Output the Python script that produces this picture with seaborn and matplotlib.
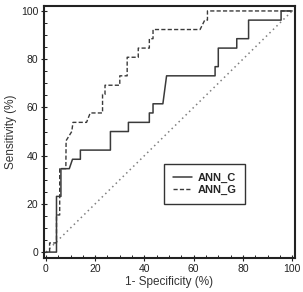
import numpy as np
import pandas as pd
import matplotlib
matplotlib.use("Agg")
import matplotlib.pyplot as plt
from matplotlib.ticker import MultipleLocator
import seaborn as sns

# ROC step points (percent)
fpr_c = [0, 4.3, 4.3, 6.1, 6.1, 9.5, 10.8, 14.0, 14.0, 26.2, 26.2, 33.5, 33.5, 42.0, 42.0,
         43.5, 43.5, 47.5, 49.0, 68.7, 68.7, 70.0, 70.0, 77.5, 77.5, 82.3, 82.3, 95.5, 95.5, 100]
tpr_c = [0, 0, 23.1, 23.1, 34.6, 34.6, 38.5, 38.5, 42.3, 42.3, 50.0, 50.0, 53.8, 53.8, 57.7,
         57.7, 61.5, 61.5, 73.1, 73.1, 76.9, 76.9, 84.6, 84.6, 88.5, 88.5, 96.2, 96.2, 100, 100]

fpr_g = [1.5, 1.5, 4.3, 4.3, 5.6, 5.6, 8.1, 8.2, 10.5, 11.0, 16.5, 18.0, 23.0, 23.0, 24.0,
         24.0, 30.0, 30.0, 33.0, 33.0, 37.5, 37.5, 42.0, 42.0, 43.5, 43.5, 62.6, 64.5, 65.6, 65.6, 100]
tpr_g = [0, 3.8, 3.8, 15.4, 15.4, 34.6, 34.6, 46.2, 50.0, 53.8, 53.8, 57.7, 57.7, 65.4, 65.4,
         69.2, 69.2, 73.1, 73.1, 80.8, 80.8, 84.6, 84.6, 88.5, 88.5, 92.3, 92.3, 96.2, 96.2, 100, 100]

ref_x = [0, 100]
ref_y = [0, 100]

sns.set_style("white")
plt.rcParams['font.family'] = ['Liberation Sans', 'DejaVu Sans']

fig = plt.figure(figsize=(3.03, 2.92), dpi=100)
ax = fig.add_axes([0.145, 0.116, 0.829, 0.863])

dfC = pd.DataFrame({'x': fpr_c, 'y': tpr_c})
dfG = pd.DataFrame({'x': fpr_g, 'y': tpr_g})
dfR = pd.DataFrame({'x': ref_x, 'y': ref_y})

sns.lineplot(x='x', y='y', data=dfR, ax=ax, sort=False, estimator=None,
             color='#808080', linestyle=(0, (1, 2.2)), linewidth=1.1)
sns.lineplot(x='x', y='y', data=dfG, ax=ax, sort=False, estimator=None,
             color='#3a3a3a', linestyle=(0, (3, 1.6)), linewidth=1.0, label='ANN_G')
sns.lineplot(x='x', y='y', data=dfC, ax=ax, sort=False, estimator=None,
             color='#3a3a3a', linewidth=1.1, label='ANN_C')

ax.set_xlim(-0.8, 101.2)
ax.set_ylim(-2.5, 102)
ax.xaxis.set_major_locator(MultipleLocator(20))
ax.yaxis.set_major_locator(MultipleLocator(20))
ax.xaxis.set_minor_locator(MultipleLocator(5))
ax.yaxis.set_minor_locator(MultipleLocator(5))
ax.tick_params(which='major', direction='inout', length=4, width=0.8, labelsize=7.5,
               colors='#222222', pad=2)
ax.tick_params(which='minor', direction='in', length=2.5, width=0.7, colors='#222222')
ax.tick_params(axis='x', which='both', bottom=True)
ax.tick_params(axis='y', which='both', left=True)
for s in ax.spines.values():
    s.set_linewidth(1.5)
    s.set_color('#222222')

ax.set_xlabel('1- Specificity (%)', fontsize=8.5, color='#333333', labelpad=2)
ax.set_ylabel('Sensitivity (%)', fontsize=8.5, color='#333333', labelpad=3)

h, l = ax.get_legend_handles_labels()
leg = ax.legend(h[::-1], l[::-1], loc='center', bbox_to_anchor=(0.64, 0.295),
                frameon=True, fancybox=False, framealpha=1,
                prop={'weight': 'bold', 'size': 8}, handlelength=1.7, handletextpad=0.5,
                borderpad=0.8, labelspacing=0.15, borderaxespad=0)
leg.get_frame().set_edgecolor('#333333')
leg.get_frame().set_linewidth(1.0)

plt.savefig('out.png', dpi=100)
